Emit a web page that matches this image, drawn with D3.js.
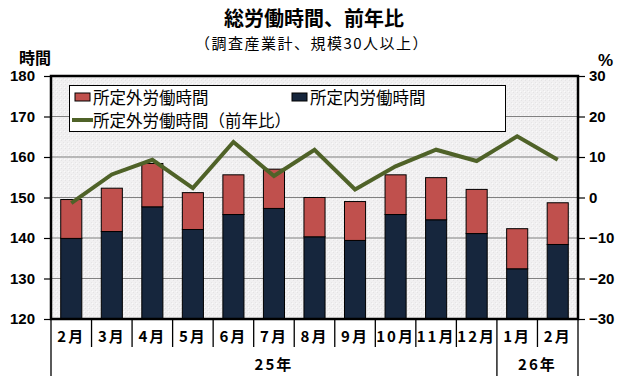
<!DOCTYPE html>
<html><head><meta charset="utf-8">
<script src="https://cdn.jsdelivr.net/npm/d3@7"></script>
<style>
body{margin:0;background:#fff;}
svg{display:block;}
.jp{font-family:"Noto Sans CJK JP","Noto Sans",sans-serif;}
</style></head>
<body><svg id="c" width="630" height="380"></svg>
<script>
const months = ["2月","3月","4月","5月","6月","7月","8月","9月","10月","11月","12月","1月","2月"];
const totalHours = [149.5,152.3,158.4,151.2,155.6,157.0,150.0,149.0,155.6,154.9,152.0,142.3,148.7];
const scheduledHours = [139.9,141.6,147.7,142.1,145.8,147.3,140.3,139.4,145.8,144.5,141.1,132.4,138.4];
const overtimeYoY = [-1.4,5.7,9.3,2.3,13.7,5.3,11.8,2.0,7.7,11.8,9.0,15.1,9.3];
const leftTicks = [120,130,140,150,160,170,180];
const rightTicks = [-30,-20,-10,0,10,20,30];
const yearGroups = [{label:"25年", from:0, to:10},{label:"26年", from:11, to:12}];
const seriesNames = ["所定外労働時間","所定内労働時間","所定外労働時間（前年比）"];

const svg = d3.select("#c");
const L = 51, R = 578, T = 76, B = 319;
const x = d3.scaleBand().domain(d3.range(months.length)).range([L,R]).paddingInner(0.48).paddingOuter(0.24);
const yL = d3.scaleLinear().domain([120,180]).range([B,T]);
const yR = d3.scaleLinear().domain([-30,30]).range([B,T]);

// background with speckle
const defs = svg.append("defs");
const pat = defs.append("pattern").attr("id","sp").attr("width",4).attr("height",4).attr("patternUnits","userSpaceOnUse");
pat.append("rect").attr("width",4).attr("height",4).attr("fill","#f1f0f1");
pat.append("rect").attr("x",1).attr("y",0).attr("width",1).attr("height",1).attr("fill","#e4e3e4");
pat.append("rect").attr("x",3).attr("y",2).attr("width",1).attr("height",1).attr("fill","#e6e5e6");
pat.append("rect").attr("x",0).attr("y",3).attr("width",1).attr("height",1).attr("fill","#fbfbfb");
svg.append("rect").attr("x",L).attr("y",T).attr("width",R-L).attr("height",B-T).attr("fill","url(#sp)");

// gridlines
svg.append("g").selectAll("line").data(leftTicks.slice(1,-1)).join("line")
  .attr("x1",L).attr("x2",R).attr("y1",d=>yL(d)).attr("y2",d=>yL(d))
  .attr("stroke","#808080").attr("stroke-width",1.2);

// bars
const bw = x.bandwidth();
const g = svg.append("g");
g.selectAll(".s").data(months).join("rect")
  .attr("x",(d,i)=>x(i)).attr("width",bw)
  .attr("y",(d,i)=>yL(scheduledHours[i])).attr("height",(d,i)=>yL(120)-yL(scheduledHours[i]))
  .attr("fill","#16263d").attr("stroke","#000").attr("stroke-width",1);
g.selectAll(".o").data(months).join("rect")
  .attr("x",(d,i)=>x(i)).attr("width",bw)
  .attr("y",(d,i)=>yL(totalHours[i])).attr("height",(d,i)=>yL(scheduledHours[i])-yL(totalHours[i]))
  .attr("fill","#c0504d").attr("stroke","#000").attr("stroke-width",1);

// line
const line = d3.line().x((d,i)=>x(i)+bw/2).y(d=>yR(d));
svg.append("path").datum(overtimeYoY).attr("d",line).attr("fill","none")
  .attr("stroke","#4f6228").attr("stroke-width",4).attr("stroke-linejoin","miter");

// frame
svg.append("rect").attr("x",L).attr("y",T).attr("width",R-L).attr("height",B-T)
  .attr("fill","none").attr("stroke","#000").attr("stroke-width",2.5);

// axes
const axL = svg.append("g").attr("transform",`translate(${L},0)`)
  .call(d3.axisLeft(yL).tickValues(leftTicks).tickSize(7).tickPadding(9));
axL.select(".domain").remove();
axL.selectAll("line").attr("stroke","#000").attr("stroke-width",1.2);
axL.selectAll("text").attr("font-size",15).attr("font-weight","bold").attr("fill","#000").attr("font-family","Liberation Sans, Arial, sans-serif");

const axR = svg.append("g").attr("transform",`translate(${R},0)`)
  .call(d3.axisRight(yR).tickValues(rightTicks).tickSize(7).tickPadding(4).tickFormat(d=>d<0?"−"+Math.abs(d):d));
axR.select(".domain").remove();
axR.selectAll("line").attr("stroke","#000").attr("stroke-width",1.2);
axR.selectAll("text").attr("font-size",15).attr("fill","#000").attr("font-family","Liberation Sans, Arial, sans-serif").attr("font-weight","bold");

// category axis
const cat = svg.append("g");
const step = x.step();
const bounds = d3.range(months.length+1).map(i=> i<months.length ? x(i)-(step-bw)/2 : R);
bounds[0]=L;
const yearBounds = new Set([0, yearGroups[0].to+1, months.length]);
cat.selectAll("line").data(bounds).join("line")
  .attr("x1",d=>d).attr("x2",d=>d).attr("y1",B)
  .attr("y2",(d,i)=>yearBounds.has(i)?376:347)
  .attr("stroke","#000").attr("stroke-width",1.3);
cat.selectAll("text").data(months).join("text")
  .attr("x",(d,i)=>x(i)+bw/2).attr("y",342)
  .attr("text-anchor","middle").attr("font-size",15).attr("letter-spacing",2)
  .attr("font-family","Noto Sans CJK JP, sans-serif").attr("font-weight","bold").text(d=>d);
svg.append("g").selectAll("text").data(yearGroups).join("text")
  .attr("x",d=>(bounds[d.from]+bounds[d.to+1])/2).attr("y",370)
  .attr("text-anchor","middle").attr("font-size",15).attr("letter-spacing",2)
  .attr("font-family","Noto Sans CJK JP, sans-serif").attr("font-weight","bold").text(d=>d.label);

// titles
svg.append("text").attr("x",314).attr("y",26).attr("text-anchor","middle").attr("class","jp")
  .attr("font-size",20).attr("font-weight","bold").text("総労働時間、前年比");
svg.append("text").attr("x",312).attr("y",49).attr("text-anchor","middle").attr("class","jp")
  .attr("font-size",15).attr("letter-spacing",1.5).text("（調査産業計、規模30人以上）");
svg.append("text").attr("x",19).attr("y",64).attr("class","jp").attr("font-size",16).attr("font-weight","bold").text("時間");
svg.append("text").attr("x",598).attr("y",66).attr("font-family","Liberation Sans, Arial, sans-serif").attr("font-size",17).attr("font-weight","bold").text("%");

// legend
const lg = svg.append("g");
lg.append("rect").attr("x",69.5).attr("y",85.5).attr("width",436).attr("height",46).attr("fill","#fff").attr("stroke","#000").attr("stroke-width",1);
lg.append("rect").attr("x",75).attr("y",93).attr("width",15).attr("height",8).attr("fill","#c0504d").attr("stroke","#000").attr("stroke-width",1);
lg.append("text").attr("x",93).attr("y",104).attr("class","jp").attr("font-size",16.5).text(seriesNames[0]);
lg.append("rect").attr("x",292).attr("y",93).attr("width",15).attr("height",8).attr("fill","#16263d").attr("stroke","#000").attr("stroke-width",1);
lg.append("text").attr("x",310).attr("y",104).attr("class","jp").attr("font-size",16.5).text(seriesNames[1]);
lg.append("line").attr("x1",72).attr("x2",93).attr("y1",120).attr("y2",120).attr("stroke","#4f6228").attr("stroke-width",4);
lg.append("text").attr("x",93).attr("y",127).attr("class","jp").attr("font-size",16.5).text(seriesNames[2]);
</script></body></html>
